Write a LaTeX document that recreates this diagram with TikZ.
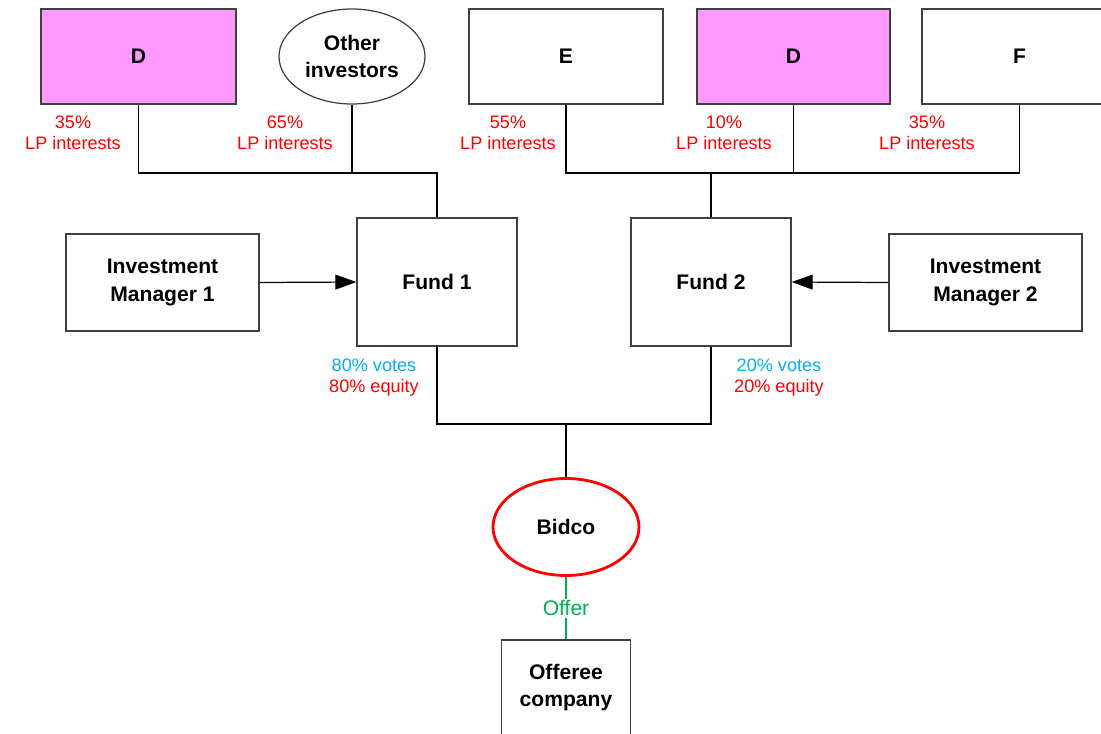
\documentclass[tikz,border=0pt]{standalone}
\usepackage{fontspec}
\setmainfont{Liberation Sans}
\usetikzlibrary{shapes.geometric,arrows.meta}
\definecolor{lpred}{HTML}{FF0000}
\definecolor{votecyan}{HTML}{00B0F0}
\definecolor{offergreen}{HTML}{00B050}
\definecolor{pinkfill}{HTML}{FF99FF}
\definecolor{edgegray}{HTML}{404040}
\tikzset{
  entity/.style={draw=edgegray, line width=0.7pt, fill=white, minimum width=3.9cm, minimum height=1.9cm,
    align=center, font=\fontsize{12}{15.4}\selectfont\bfseries, inner sep=0pt},
  oval/.style={ellipse, draw=edgegray, line width=0.7pt, fill=white, minimum width=2.92cm, minimum height=1.9cm,
    align=center, font=\fontsize{12}{15.4}\selectfont\bfseries, inner sep=0pt},
  share/.style={align=center, font=\fontsize{10.3}{12}\selectfont, text=lpred, inner sep=1pt},
  link/.style={line width=0.7pt, black},
  control/.style={line width=0.7pt, black, -{Triangle[length=12pt, width=8.5pt]}}
}
\begin{document}
\begin{tikzpicture}
  \useasboundingbox (0,0) rectangle (22.02,-14.66);
  \clip (0,0) rectangle (22.02,-14.66);
  % limited partners
  \node[entity, fill=pinkfill] (dA) at (2.77,-1.13) {D};
  \node[oval] (oth) at (7.04,-1.13) {Other\\investors};
  \node[entity, minimum width=3.88cm] (e) at (11.32,-1.13) {E};
  \node[entity, fill=pinkfill, minimum width=3.86cm] (dB) at (15.87,-1.13) {D};
  \node[entity] (f) at (20.39,-1.13) {F};
  % funds and managers
  \node[entity, minimum width=3.2cm, minimum height=2.56cm] (fundA) at (8.74,-5.64) {Fund 1};
  \node[entity, minimum width=3.2cm, minimum height=2.56cm] (fundB) at (14.22,-5.64) {Fund 2};
  \node[entity, minimum width=3.86cm, minimum height=1.94cm] (imA) at (3.25,-5.65) {Investment\\Manager 1};
  \node[entity, minimum width=3.86cm, minimum height=1.94cm] (imB) at (19.71,-5.65) {Investment\\Manager 2};
  % bidder and target
  \node[oval, draw=lpred, line width=1.6pt, minimum width=2.92cm, minimum height=1.94cm] (bidco) at (11.32,-10.54) {Bidco};
  \node[entity, minimum width=2.58cm] (target) at (11.32,-13.75) {Offeree\\company};
  % junction points
  \coordinate (topA) at (8.74,-3.46);
  \coordinate (topB) at (14.22,-3.46);
  \coordinate (botJ) at (11.32,-8.48);
  % ownership lines
  \draw[link] (dA.south) |- (topA) -- (fundA.north);
  \draw[link] (oth.south) -- (oth.south |- topA);
  \draw[link] (e.south) |- (topB) -- (fundB.north);
  \draw[link] (f.south) |- (topB);
  \draw[link] (dB.south) -- (dB.south |- topB);
  \draw[link] (fundA.south) |- (botJ);
  \draw[link] (fundB.south) |- (botJ);
  \draw[link] (botJ) -- (bidco.north);
  \draw[control] (imA.east) -- (fundA.west);
  \draw[control] (imB.west) -- (fundB.east);
  \draw[line width=0.7pt, offergreen] (bidco.south) -- (target.north)
    node[midway, fill=white, text=offergreen, font=\fontsize{12}{14}\selectfont, inner sep=1pt] {Offer};
  % percentages
  \node[share] at (1.46,-2.66) {35\%\\LP interests};
  \node[share] at (5.70,-2.66) {65\%\\LP interests};
  \node[share] at (10.16,-2.66) {55\%\\LP interests};
  \node[share] at (14.48,-2.66) {10\%\\LP interests};
  \node[share] at (18.54,-2.66) {35\%\\LP interests};
  \node[share] at (7.48,-7.56) {\textcolor{votecyan}{80\% votes}\\80\% equity};
  \node[share] at (15.58,-7.56) {\textcolor{votecyan}{20\% votes}\\20\% equity};
\end{tikzpicture}
\end{document}
